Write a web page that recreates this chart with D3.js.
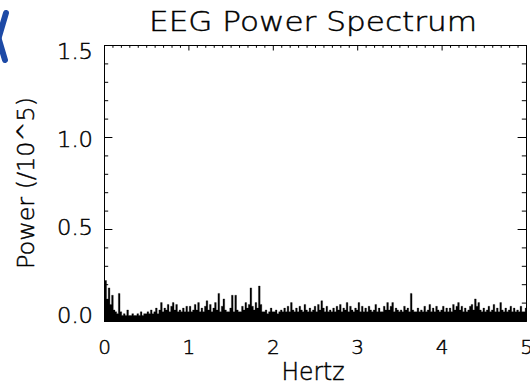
<!DOCTYPE html>
<html>
<head>
<meta charset="utf-8">
<title>EEG Power Spectrum</title>
<style>
  body { margin: 0; background: #fff; }
  svg { display: block; }
  .axis text { font-family: "DejaVu Sans", sans-serif; font-weight: 200; fill: #000; stroke: #000; stroke-width: 0.45; }
  .axis line, .axis path { stroke: #000; stroke-width: 1; }
  .ttl { font-family: "DejaVu Sans", sans-serif; font-weight: 200; fill: #000; stroke: #000; stroke-width: 0.45; }
</style>
<script src="https://cdn.jsdelivr.net/npm/d3@7"></script>
</head>
<body>
<script>
// spectrum sampled every 0.02 Hz from 0 to 5 Hz, values in hundredths of 10^5
var freqStep = 0.02;
var powerHundredths = [
  20,22,12,18,9,  14,6,5,4,15,   5,3,4,3,6,   3,3,4,3,3,   4,3,5,3,4,
  4,5,4,6,4,      5,7,4,6,10,    5,7,6,9,5,   8,10,6,9,5,  6,5,7,5,8,
  5,8,5,6,9,      6,10,5,7,5,    8,11,6,9,5,  7,10,6,15,5, 8,12,6,5,5,
  7,14,5,14,6,    5,5,8,6,10,    7,9,18,8,6,  10,7,19,9,5, 5,6,4,5,7,
  5,5,6,4,5,      6,5,7,5,8,     5,10,6,5,7,  5,8,6,5,9,   6,5,7,5,6,
  8,5,9,6,11,     7,5,8,5,6,     5,7,5,8,6,   9,5,7,6,10,  5,8,6,5,7,
  6,10,5,8,5,     7,5,8,6,5,     6,9,5,7,5,   5,8,6,10,6,  8,10,5,7,6,
  5,6,5,8,6,      7,5,15,6,5,    5,7,5,6,5,   8,5,6,9,5,   7,5,8,6,5,
  6,8,5,7,5,      7,5,9,6,8,     10,6,8,5,7,  5,6,8,9,6,   12,8,10,6,5,
  7,5,6,8,5,      6,9,5,7,5,     10,6,5,7,5,  6,8,5,7,5,   6,5,8,5,5,
  7
];
var xMajor = [0, 1, 2, 3, 4, 5];
var yMajor = [0, 0.5, 1.0, 1.5];
var titleText = "EEG Power Spectrum";
var xTitle = "Hertz";
var yTitle = "Power (/10^5)";

var width = 530, height = 385;
var plot = {left: 104, right: 526, top: 45, bottom: 321};

var svg = d3.select("body").append("svg").attr("width", width).attr("height", height);

var x = d3.scaleLinear().domain([0, 5]).range([plot.left, plot.right]);
var y = d3.scaleLinear().domain([0, 1.5]).range([plot.bottom, plot.top]);

var spectrum = powerHundredths.map(function(v, i) { return [i * freqStep, v / 100]; });

svg.append("clipPath").attr("id", "clip")
  .append("rect")
  .attr("x", plot.left).attr("y", plot.top)
  .attr("width", plot.right - plot.left).attr("height", plot.bottom - plot.top);

var area = d3.area()
  .x(function(d) { return x(d[0]); })
  .y0(y(0))
  .y1(function(d) { return y(d[1]); })
  .curve(d3.curveStep);

svg.append("path")
  .datum(spectrum)
  .attr("clip-path", "url(#clip)")
  .attr("d", area)
  .attr("fill", "#000")
  .attr("stroke", "#000")
  .attr("stroke-width", 0.3);

var xMinor = d3.range(0, 50).map(function(i) { return i / 10; }).filter(function(v) { return v % 1 !== 0; });
var yMinor = d3.range(0, 15).map(function(i) { return i / 10; }).filter(function(v) { return Math.round(v * 10) % 5 !== 0; });

// bottom axis with labels
var gb = svg.append("g").attr("class", "axis")
  .attr("transform", "translate(0," + plot.bottom + ")")
  .call(d3.axisBottom(x).tickValues(xMajor).tickSize(-5.5).tickPadding(19).tickFormat(d3.format("d")));
gb.selectAll("text").attr("font-size", 20);
svg.append("g").attr("class", "axis")
  .attr("transform", "translate(0," + plot.bottom + ")")
  .call(d3.axisBottom(x).tickValues(xMinor).tickSize(-2.8).tickFormat(""))
  .select(".domain").remove();

// top axis
svg.append("g").attr("class", "axis")
  .attr("transform", "translate(0," + plot.top + ")")
  .call(d3.axisTop(x).tickValues(xMajor).tickSize(-5.5).tickFormat(""));
svg.append("g").attr("class", "axis")
  .attr("transform", "translate(0," + plot.top + ")")
  .call(d3.axisTop(x).tickValues(xMinor).tickSize(-2.8).tickFormat(""))
  .select(".domain").remove();

// left axis with labels
var labelShift = d3.scaleLinear().domain([0, 1.5]).range([-6, 6]);
var gl = svg.append("g").attr("class", "axis")
  .attr("transform", "translate(" + plot.left + ",0)")
  .call(d3.axisLeft(y).tickValues(yMajor).tickSize(-8.4).tickPadding(11).tickFormat(d3.format(".1f")));
gl.selectAll("text")
  .attr("font-size", 21)
  .attr("textLength", 36).attr("lengthAdjust", "spacingAndGlyphs")
  .attr("dy", function(d) { return (labelShift(d) + 7) + "px"; });
svg.append("g").attr("class", "axis")
  .attr("transform", "translate(" + plot.left + ",0)")
  .call(d3.axisLeft(y).tickValues(yMinor).tickSize(-4.2).tickFormat(""))
  .select(".domain").remove();

// right axis
svg.append("g").attr("class", "axis")
  .attr("transform", "translate(" + plot.right + ",0)")
  .call(d3.axisRight(y).tickValues(yMajor).tickSize(-8.4).tickFormat(""));
svg.append("g").attr("class", "axis")
  .attr("transform", "translate(" + plot.right + ",0)")
  .call(d3.axisRight(y).tickValues(yMinor).tickSize(-4.2).tickFormat(""))
  .select(".domain").remove();

// titles
svg.append("text").attr("class", "ttl")
  .attr("x", (plot.left + plot.right) / 2 - 2).attr("y", 31)
  .attr("text-anchor", "middle").attr("font-size", 26)
  .attr("textLength", 328).attr("lengthAdjust", "spacingAndGlyphs")
  .text(titleText);

svg.append("text").attr("class", "ttl")
  .attr("x", 313).attr("y", 380)
  .attr("text-anchor", "middle").attr("font-size", 24)
  .attr("textLength", 63).attr("lengthAdjust", "spacingAndGlyphs")
  .text(xTitle);

svg.append("text").attr("class", "ttl")
  .attr("transform", "translate(34," + ((plot.top + plot.bottom) / 2) + ") rotate(-90)")
  .attr("text-anchor", "middle").attr("font-size", 23)
  .attr("textLength", 172).attr("lengthAdjust", "spacingAndGlyphs")
  .text(yTitle);

// partially visible blue close mark at the top-left corner
var closeMark = svg.append("g")
  .attr("stroke", "#1d4aa6").attr("stroke-width", 6).attr("stroke-linecap", "round");
closeMark.append("line").attr("x1", 6).attr("y1", 13).attr("x2", -8).attr("y2", 60);
closeMark.append("line").attr("x1", 5).attr("y1", 60).attr("x2", -9).attr("y2", 13);
</script>
</body>
</html>
